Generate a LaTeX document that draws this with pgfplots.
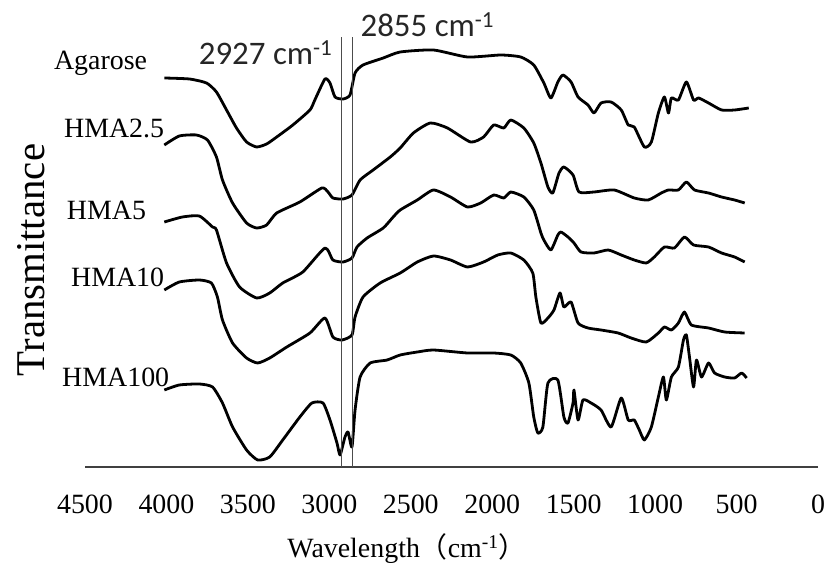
\documentclass[border=0pt]{standalone}
\usepackage{fontspec}
\setmainfont{Liberation Serif}
\newfontfamily\calfont{Carlito}
\newfontfamily\cjk{Noto Sans CJK SC}
\usepackage{pgfplots}
\pgfplotsset{compat=1.18}
\begin{document}
\begin{tikzpicture}
\path[use as bounding box] (0,0) rectangle (826bp,563bp);
\begin{axis}[
  at={(85bp,96bp)}, anchor=south west,
  scale only axis, width=733bp, height=467bp,
  x dir=reverse, xmin=0, xmax=4500, ymin=0, ymax=467,
  axis x line*=bottom, axis y line=none,
  axis line style={-, color=black!75, line width=1.2bp},
  xtick={0,500,...,4500}, major tick length=0pt,
  /pgf/number format/assume math mode=true,
  /pgf/number format/1000 sep={},
  xticklabel style={anchor=base, yshift=-46bp, font=\fontsize{28}{30}\selectfont},
  clip=false,
  spec/.style={black, mark=none, line width=2.8bp, line join=round, smooth, tension=0.35},
]
% Agarose
\addplot[spec] coordinates {(4013,389)(3859,388)(3754,384)(3693,375)(3631,357)(3570,339)(3508,325)(3446,320)(3385,323)(3323,330)(3224,342)(3119,357)(3089,367)(3027,388)(2996,384)(2965,370)(2916,368)(2873,372)(2842,394)(2793,402)(2669,409)(2565,415)(2361,417)(2152,410)(1948,412)(1825,410)(1745,402)(1683,384)(1640,369)(1597,385)(1566,392)(1516,385)(1473,370)(1412,362)(1375,354)(1332,364)(1270,365)(1208,357)(1165,342)(1128,340)(1066,320)(1023,325)(980,354)(943,370)(918,354)(900,369)(857,367)(808,385)(764,367)(733,369)(672,364)(592,357)(512,357)(425,359)};
% HMA2.5
\addplot[spec] coordinates {(4013,322)(3921,331)(3816,332)(3748,327)(3693,310)(3656,287)(3594,264)(3508,244)(3446,239)(3385,242)(3323,254)(3181,265)(3046,279)(3008,275)(2978,269)(2916,268)(2861,272)(2811,287)(2731,297)(2626,310)(2565,319)(2484,334)(2380,344)(2275,339)(2133,325)(2053,330)(1991,342)(1929,339)(1886,347)(1806,339)(1745,324)(1701,304)(1658,280)(1628,274)(1590,294)(1560,300)(1504,292)(1467,275)(1375,275)(1251,277)(1128,269)(1042,267)(962,274)(918,277)(857,277)(808,285)(758,277)(672,274)(592,270)(512,267)(450,264)};
% HMA5
\addplot[spec] coordinates {(4013,245)(3902,250)(3798,251)(3717,240)(3693,237)(3631,204)(3551,180)(3446,169)(3366,174)(3286,184)(3163,195)(3027,219)(2978,207)(2916,205)(2861,209)(2830,220)(2768,229)(2669,239)(2608,250)(2565,257)(2460,267)(2361,277)(2256,270)(2152,260)(2071,264)(1991,272)(1929,269)(1886,275)(1806,270)(1745,257)(1701,234)(1683,227)(1640,217)(1597,232)(1578,235)(1535,230)(1498,224)(1455,215)(1375,214)(1288,217)(1208,212)(1128,207)(1054,204)(1005,210)(943,220)(881,219)(820,230)(764,222)(672,220)(592,214)(512,210)(450,205)};
% HMA10
\addplot[spec] coordinates {(4013,177)(3921,185)(3798,187)(3724,184)(3687,170)(3656,147)(3594,124)(3508,109)(3440,104)(3366,109)(3261,120)(3119,134)(3027,149)(2978,130)(2922,127)(2861,132)(2842,150)(2793,170)(2688,184)(2565,194)(2460,205)(2361,211)(2256,207)(2152,200)(2053,205)(1966,212)(1886,214)(1806,207)(1751,194)(1732,170)(1701,144)(1658,149)(1621,157)(1584,174)(1560,160)(1516,165)(1473,144)(1412,139)(1332,137)(1227,134)(1147,129)(1054,125)(980,134)(943,140)(900,137)(857,144)(820,155)(777,142)(672,139)(573,135)(450,134)};
% HMA100
\addplot[spec] coordinates {(4013,77)(3921,82)(3798,83)(3717,80)(3656,64)(3594,40)(3508,17)(3440,7)(3366,10)(3286,27)(3181,50)(3107,64)(3039,64)(2996,47)(2953,24)(2934,12)(2904,30)(2885,35)(2861,20)(2842,57)(2811,90)(2749,104)(2645,107)(2565,112)(2460,115)(2361,117)(2152,114)(1991,114)(1886,112)(1825,104)(1775,84)(1745,50)(1720,34)(1689,40)(1658,84)(1597,87)(1560,50)(1535,44)(1504,64)(1498,77)(1473,47)(1443,67)(1393,64)(1332,57)(1270,40)(1208,69)(1165,47)(1128,47)(1097,37)(1066,27)(1023,40)(980,70)(949,90)(931,67)(900,90)(857,100)(826,127)(808,132)(789,110)(764,80)(746,107)(715,90)(672,104)(635,94)(573,90)(512,89)(469,94)(438,89)};
% marker lines
\addplot[black!70, mark=none, line width=1bp, sharp plot] coordinates {(2927,0)(2927,430)};
\addplot[black!70, mark=none, line width=1bp, sharp plot] coordinates {(2855,0)(2855,430)};
% labels
\node[anchor=base, font=\calfont\fontsize{33}{35}\selectfont, black!85] at (axis cs:3391,402) {2927 cm\textsuperscript{-1}};
\node[anchor=base, font=\calfont\fontsize{33}{35}\selectfont, black!85] at (axis cs:2398,430) {2855 cm\textsuperscript{-1}};
\node[anchor=base east, font=\fontsize{28}{30}\selectfont, inner sep=0pt] at (axis cs:4118,397) {Agarose};
\node[anchor=base east, font=\fontsize{28}{30}\selectfont, inner sep=0pt] at (axis cs:4013,329) {HMA2.5};
\node[anchor=base east, font=\fontsize{28}{30}\selectfont, inner sep=0pt] at (axis cs:4124,247) {HMA5};
\node[anchor=base east, font=\fontsize{28}{30}\selectfont, inner sep=0pt] at (axis cs:4013,180) {HMA10};
\node[anchor=base east, font=\fontsize{28}{30}\selectfont, inner sep=0pt] at (axis cs:3982,80) {HMA100};
\end{axis}
\node[rotate=90, font=\fontsize{41}{43}\selectfont, inner sep=0pt] at (31bp,303bp) {Transmittance};
\node[anchor=base, font=\fontsize{28}{30}\selectfont, inner sep=0pt] at (407bp,6bp) {Wavelength{\cjk （}cm\textsuperscript{-1}{\cjk ）}};
\end{tikzpicture}
\end{document}
